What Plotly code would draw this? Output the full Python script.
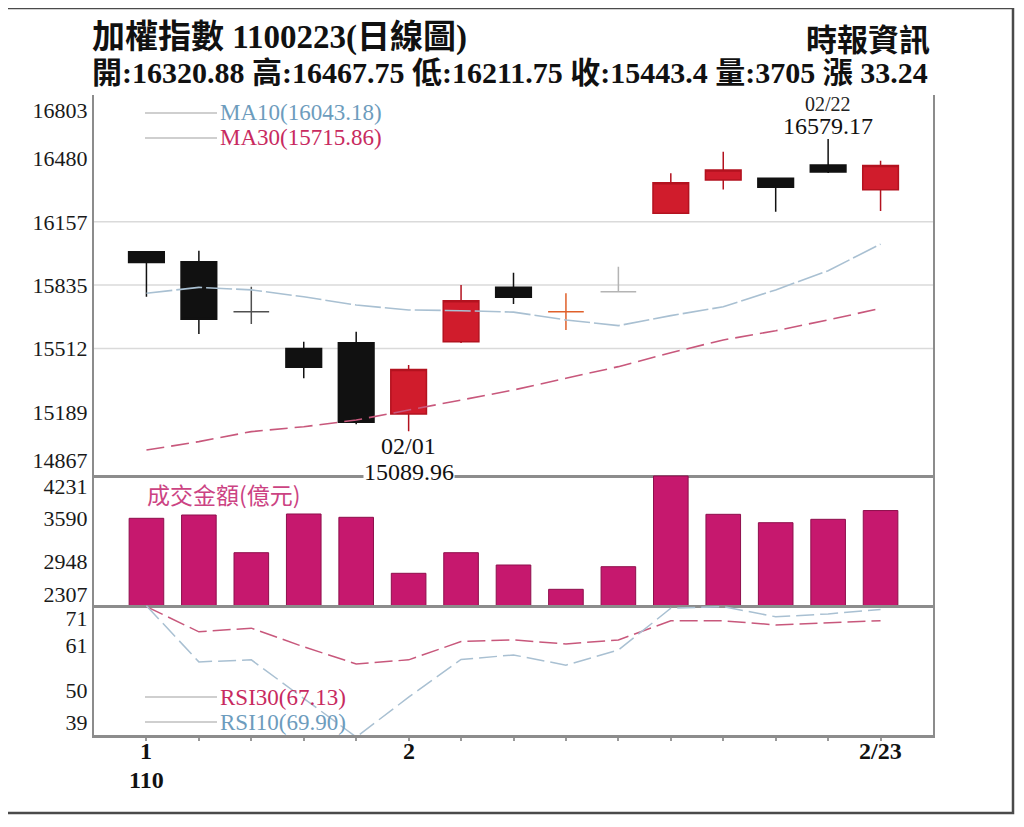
import plotly.graph_objects as go
from plotly.subplots import make_subplots

# ---------------- data ----------------
dates = ["01/25", "01/26", "01/27", "01/28", "01/29", "02/01", "02/02", "02/03",
         "02/04", "02/05", "02/17", "02/18", "02/19", "02/22", "02/23"]
roc_year = 110

opens = [16005, 15954, 15699, 15512, 15541, 15178, 15546, 15823,
         15699, 15801, 16200, 16370, 16379, 16446, 16320.88]
highs = [16005, 16010, 15826, 15546, 15597, 15427, 15835, 15898,
         15793, 15928, 16404, 16514, 16380, 16579.17, 16467.75]
lows = [15775, 15585, 15636, 15360, 15125, 15089.96, 15540, 15738,
        15606, 15801, 16200, 16322, 16208, 16405, 16211.75]
closes = [15949, 15660, 15699, 15416, 15136, 15405, 15755, 15772,
          15699, 15801, 16356, 16421, 16333, 16410.16, 16443.4]

ma10 = [15793, 15823, 15810, 15775, 15733, 15708, 15704, 15697,
        15657, 15628, 15679, 15724, 15810, 15908, 16043.18]
ma30 = [14994, 15037, 15088, 15113, 15147, 15198, 15249, 15300,
        15360, 15419, 15490, 15555, 15602, 15657, 15715.86]

turnover = [3590, 3639, 3081, 3654, 3605, 2776, 3081, 2899,
            2539, 2874, 4216, 3649, 3525, 3575, 3705]

rsi30 = [70.6, 64.4, 65.3, 60.7, 56.5, 57.5, 62.0, 62.4,
         61.4, 62.4, 67.1, 67.1, 66.1, 66.6, 67.13]
rsi10 = [70.8, 57.0, 57.5, 48.1, 38.5, 48.3, 57.6, 58.7,
         56.2, 59.9, 70.2, 70.6, 68.1, 68.8, 69.90]

price_ticks = [16803, 16480, 16157, 15835, 15512, 15189, 14867]
price_grid = [16157, 15835, 15512]
turnover_ticks = [4231, 3590, 2948, 2307]
rsi_ticks = [71, 61, 50, 39]

title_text = "加權指數 1100223(日線圖)"
source_text = "時報資訊"
quote_text = "開:16320.88 高:16467.75 低:16211.75 收:15443.4 量:3705 漲 33.24"
turnover_title = "成交金額(億元)"

# ---------------- styles ----------------
SERIF = "Liberation Serif, Noto Sans CJK TC"
UP_FILL, UP_LINE = "#d01c2c", "#b3121f"
DN_FILL, DN_LINE = "#111111", "#111111"
DOJI_COLORS = ["#505050", "#e0602a", "#b4b4b4"]
MA10_LINE, MA10_TEXT = "#a9c0d2", "#6d9cbd"
MA30_LINE, MA30_TEXT = "#c8587c", "#c82a60"
BAR_FILL, BAR_LINE = "#c6186e", "#8e0f4c"
AXIS_COL = "#8c8c8c"

# page body has an 8px margin: work in reference pixels, shift figure by it
PAGE_OFF = 8
FIG_W, FIG_H = 1024 - PAGE_OFF, 827 - PAGE_OFF
L, R, T, B = 94, 933, 95, 735          # plot area in reference pixels
W, H = R - L, B - T
main_px, vol_px, rsi_px = 380, 130, 130


def fx(px):
    return (px - L) / W


def fy(py):
    return (B - py) / H


fig = make_subplots(rows=3, cols=1, shared_xaxes=True, vertical_spacing=0,
                    row_heights=[main_px / H, vol_px / H, rsi_px / H])

up_idx = [i for i in range(len(dates)) if closes[i] > opens[i]]
dn_idx = [i for i in range(len(dates)) if closes[i] < opens[i]]
doji_idx = [i for i in range(len(dates)) if closes[i] == opens[i]]


def candle(idx, line_c, fill_c, lw):
    return go.Candlestick(
        x=[dates[i] for i in idx], open=[opens[i] for i in idx],
        high=[highs[i] for i in idx], low=[lows[i] for i in idx],
        close=[closes[i] for i in idx],
        increasing=dict(line=dict(color=line_c, width=lw), fillcolor=fill_c),
        decreasing=dict(line=dict(color=line_c, width=lw), fillcolor=fill_c),
        whiskerwidth=0, showlegend=False, hoverinfo="skip")


fig.add_trace(candle(up_idx, UP_LINE, UP_FILL, 1.5), row=1, col=1)
fig.add_trace(candle(dn_idx, DN_LINE, DN_FILL, 1.5), row=1, col=1)
for k, i in enumerate(doji_idx):
    c = DOJI_COLORS[k % len(DOJI_COLORS)]
    fig.add_trace(candle([i], c, c, 1.5), row=1, col=1)

fig.add_trace(go.Scatter(x=dates, y=ma10, mode="lines", showlegend=False, hoverinfo="skip",
                         line=dict(color=MA10_LINE, width=1.6, dash="26px,4px")), row=1, col=1)
fig.add_trace(go.Scatter(x=dates, y=ma30, mode="lines", showlegend=False, hoverinfo="skip",
                         line=dict(color=MA30_LINE, width=1.6, dash="18px,7px")), row=1, col=1)

fig.add_trace(go.Bar(x=dates, y=turnover, width=0.66, showlegend=False, hoverinfo="skip",
                     marker=dict(color=BAR_FILL, line=dict(color=BAR_LINE, width=1))), row=2, col=1)

fig.add_trace(go.Scatter(x=dates, y=rsi30, mode="lines", showlegend=False, hoverinfo="skip",
                         line=dict(color=MA30_LINE, width=1.5, dash="18px,6px")), row=3, col=1)
fig.add_trace(go.Scatter(x=dates, y=rsi10, mode="lines", showlegend=False, hoverinfo="skip",
                         line=dict(color=MA10_LINE, width=1.5, dash="18px,6px")), row=3, col=1)


def tick_positions(labels, lo, hi, panel_px, inset_px=12):
    u = inset_px / panel_px * (hi - lo)
    out = []
    for v in labels:
        if v >= hi:
            out.append(hi - u)
        elif v <= lo:
            out.append(lo + u)
        else:
            out.append(v)
    return out


p_lo, p_hi = min(price_ticks), max(price_ticks)
v_lo, v_hi = min(turnover_ticks), max(turnover_ticks)
r_lo, r_hi = min(rsi_ticks), max(rsi_ticks)

yfont = dict(family="Liberation Serif", size=22, color="#1a1a1a")
common_y = dict(showline=True, mirror=True, linecolor=AXIS_COL, linewidth=2,
                showgrid=False, zeroline=False, ticks="", tickfont=yfont, fixedrange=True)
fig.update_yaxes(range=[p_lo, p_hi], tickvals=tick_positions(price_ticks, p_lo, p_hi, main_px, 15),
                 ticktext=[str(v) for v in price_ticks], row=1, col=1, **common_y)
fig.update_yaxes(range=[v_lo, v_hi], tickvals=tick_positions(turnover_ticks, v_lo, v_hi, vol_px, 11),
                 ticktext=[str(v) for v in turnover_ticks], row=2, col=1, **common_y)
fig.update_yaxes(range=[r_lo, r_hi], tickvals=tick_positions(rsi_ticks, r_lo, r_hi, rsi_px, 13),
                 ticktext=[str(v) for v in rsi_ticks], row=3, col=1, **common_y)

common_x = dict(type="category", categoryorder="array", categoryarray=dates,
                range=[-1, len(dates)], showline=True, linecolor=AXIS_COL, linewidth=2.5,
                showgrid=False, zeroline=False, fixedrange=True, rangeslider_visible=False)
fig.update_xaxes(showticklabels=False, ticks="", row=1, col=1, **common_x)
fig.update_xaxes(showticklabels=False, ticks="", row=2, col=1, **common_x)
fig.update_xaxes(tickvals=dates, ticks="outside", ticklen=3, tickwidth=2,
                 tickcolor="#9a9a9a", showticklabels=False, row=3, col=1, **common_x)

shapes = []
for g in price_grid:
    shapes.append(dict(type="line", xref="x domain", yref="y", x0=0, x1=1, y0=g, y1=g,
                       line=dict(color="#dadada", width=1.5), layer="below"))
shapes.append(dict(type="rect", xref="paper", yref="paper", x0=fx(6), x1=fx(1013),
                   y0=fy(813), y1=fy(8), line=dict(color="#4a4a4a", width=2.5)))
for py in (113, 138, 697, 722):
    shapes.append(dict(type="line", xref="paper", yref="paper", x0=fx(145), x1=fx(217),
                       y0=fy(py), y1=fy(py), line=dict(color="#cfcfcf", width=2)))

ann = []


def text(px, py, s, size, color="#111", anchor="left", bold=False, family=SERIF):
    ann.append(dict(xref="paper", yref="paper", x=fx(px), y=fy(py),
                    text=f"<b>{s}</b>" if bold else s, showarrow=False,
                    xanchor=anchor, yanchor="middle",
                    font=dict(family=family, size=size, color=color)))


text(90, 38, title_text, 33, bold=True)
text(932, 41, source_text, 31, anchor="right", bold=True)
text(90, 73, quote_text, 30, bold=True)

text(218, 113, f"MA10({ma10[-1]:.2f})", 23, color=MA10_TEXT)
text(218, 138, f"MA30({ma30[-1]:.2f})", 23, color=MA30_TEXT)
text(145, 494, turnover_title, 23, color="#cc4383", family="Noto Sans CJK TC")
text(218, 697, f"RSI30({rsi30[-1]:.2f})", 23, color=MA30_TEXT)
text(218, 722, f"RSI10({rsi10[-1]:.2f})", 23, color=MA10_TEXT)

# x-axis date labels: first day -> month + ROC year, month change -> month, last -> m/d
xfont = dict(family="Liberation Serif", size=24, color="#111")
prev_m = None
for i, d in enumerate(dates):
    m, dd = int(d[:2]), int(d[3:])
    label = None
    if i == 0:
        label = str(m)
        ann.append(dict(xref="x", yref="paper", x=d, y=fy(780), text=f"<b>{roc_year}</b>",
                        showarrow=False, yanchor="middle", font=xfont))
    elif i == len(dates) - 1:
        label = f"{m}/{dd}"
    elif m != prev_m:
        label = str(m)
    if label:
        ann.append(dict(xref="x", yref="paper", x=d, y=fy(751), text=f"<b>{label}</b>",
                        showarrow=False, yanchor="middle", font=xfont))
    prev_m = m

# high / low markers
hi_i = max(range(len(highs)), key=lambda i: highs[i])
lo_i = min(range(len(lows)), key=lambda i: lows[i])
ann.append(dict(xref="x", yref="paper", x=dates[hi_i], y=fy(104), text=dates[hi_i],
                showarrow=False, yanchor="middle",
                font=dict(family="Liberation Serif", size=20, color="#222")))
ann.append(dict(xref="x", yref="paper", x=dates[hi_i], y=fy(126), text=f"{highs[hi_i]:.2f}",
                showarrow=False, yanchor="middle",
                font=dict(family="Liberation Serif", size=24, color="#111")))
ann.append(dict(xref="x", yref="paper", x=dates[lo_i], y=fy(446), text=dates[lo_i],
                showarrow=False, yanchor="middle",
                font=dict(family="Liberation Serif", size=24, color="#111")))
ann.append(dict(xref="x", yref="paper", x=dates[lo_i], y=fy(472), text=f"{lows[lo_i]:.2f}",
                showarrow=False, yanchor="middle", bgcolor="white", borderpad=0,
                font=dict(family="Liberation Serif", size=24, color="#111")))

fig.update_layout(
    width=FIG_W, height=FIG_H, autosize=False,
    margin=dict(l=L - PAGE_OFF, r=FIG_W - (R - PAGE_OFF), t=T - PAGE_OFF,
                b=FIG_H - (B - PAGE_OFF), pad=0),
    paper_bgcolor="white", plot_bgcolor="white",
    boxgap=0.32, boxgroupgap=0, bargap=0.34,
    shapes=shapes, annotations=ann, showlegend=False,
    hovermode=False,
)

fig.write_html("out.html", config={"displayModeBar": False})
